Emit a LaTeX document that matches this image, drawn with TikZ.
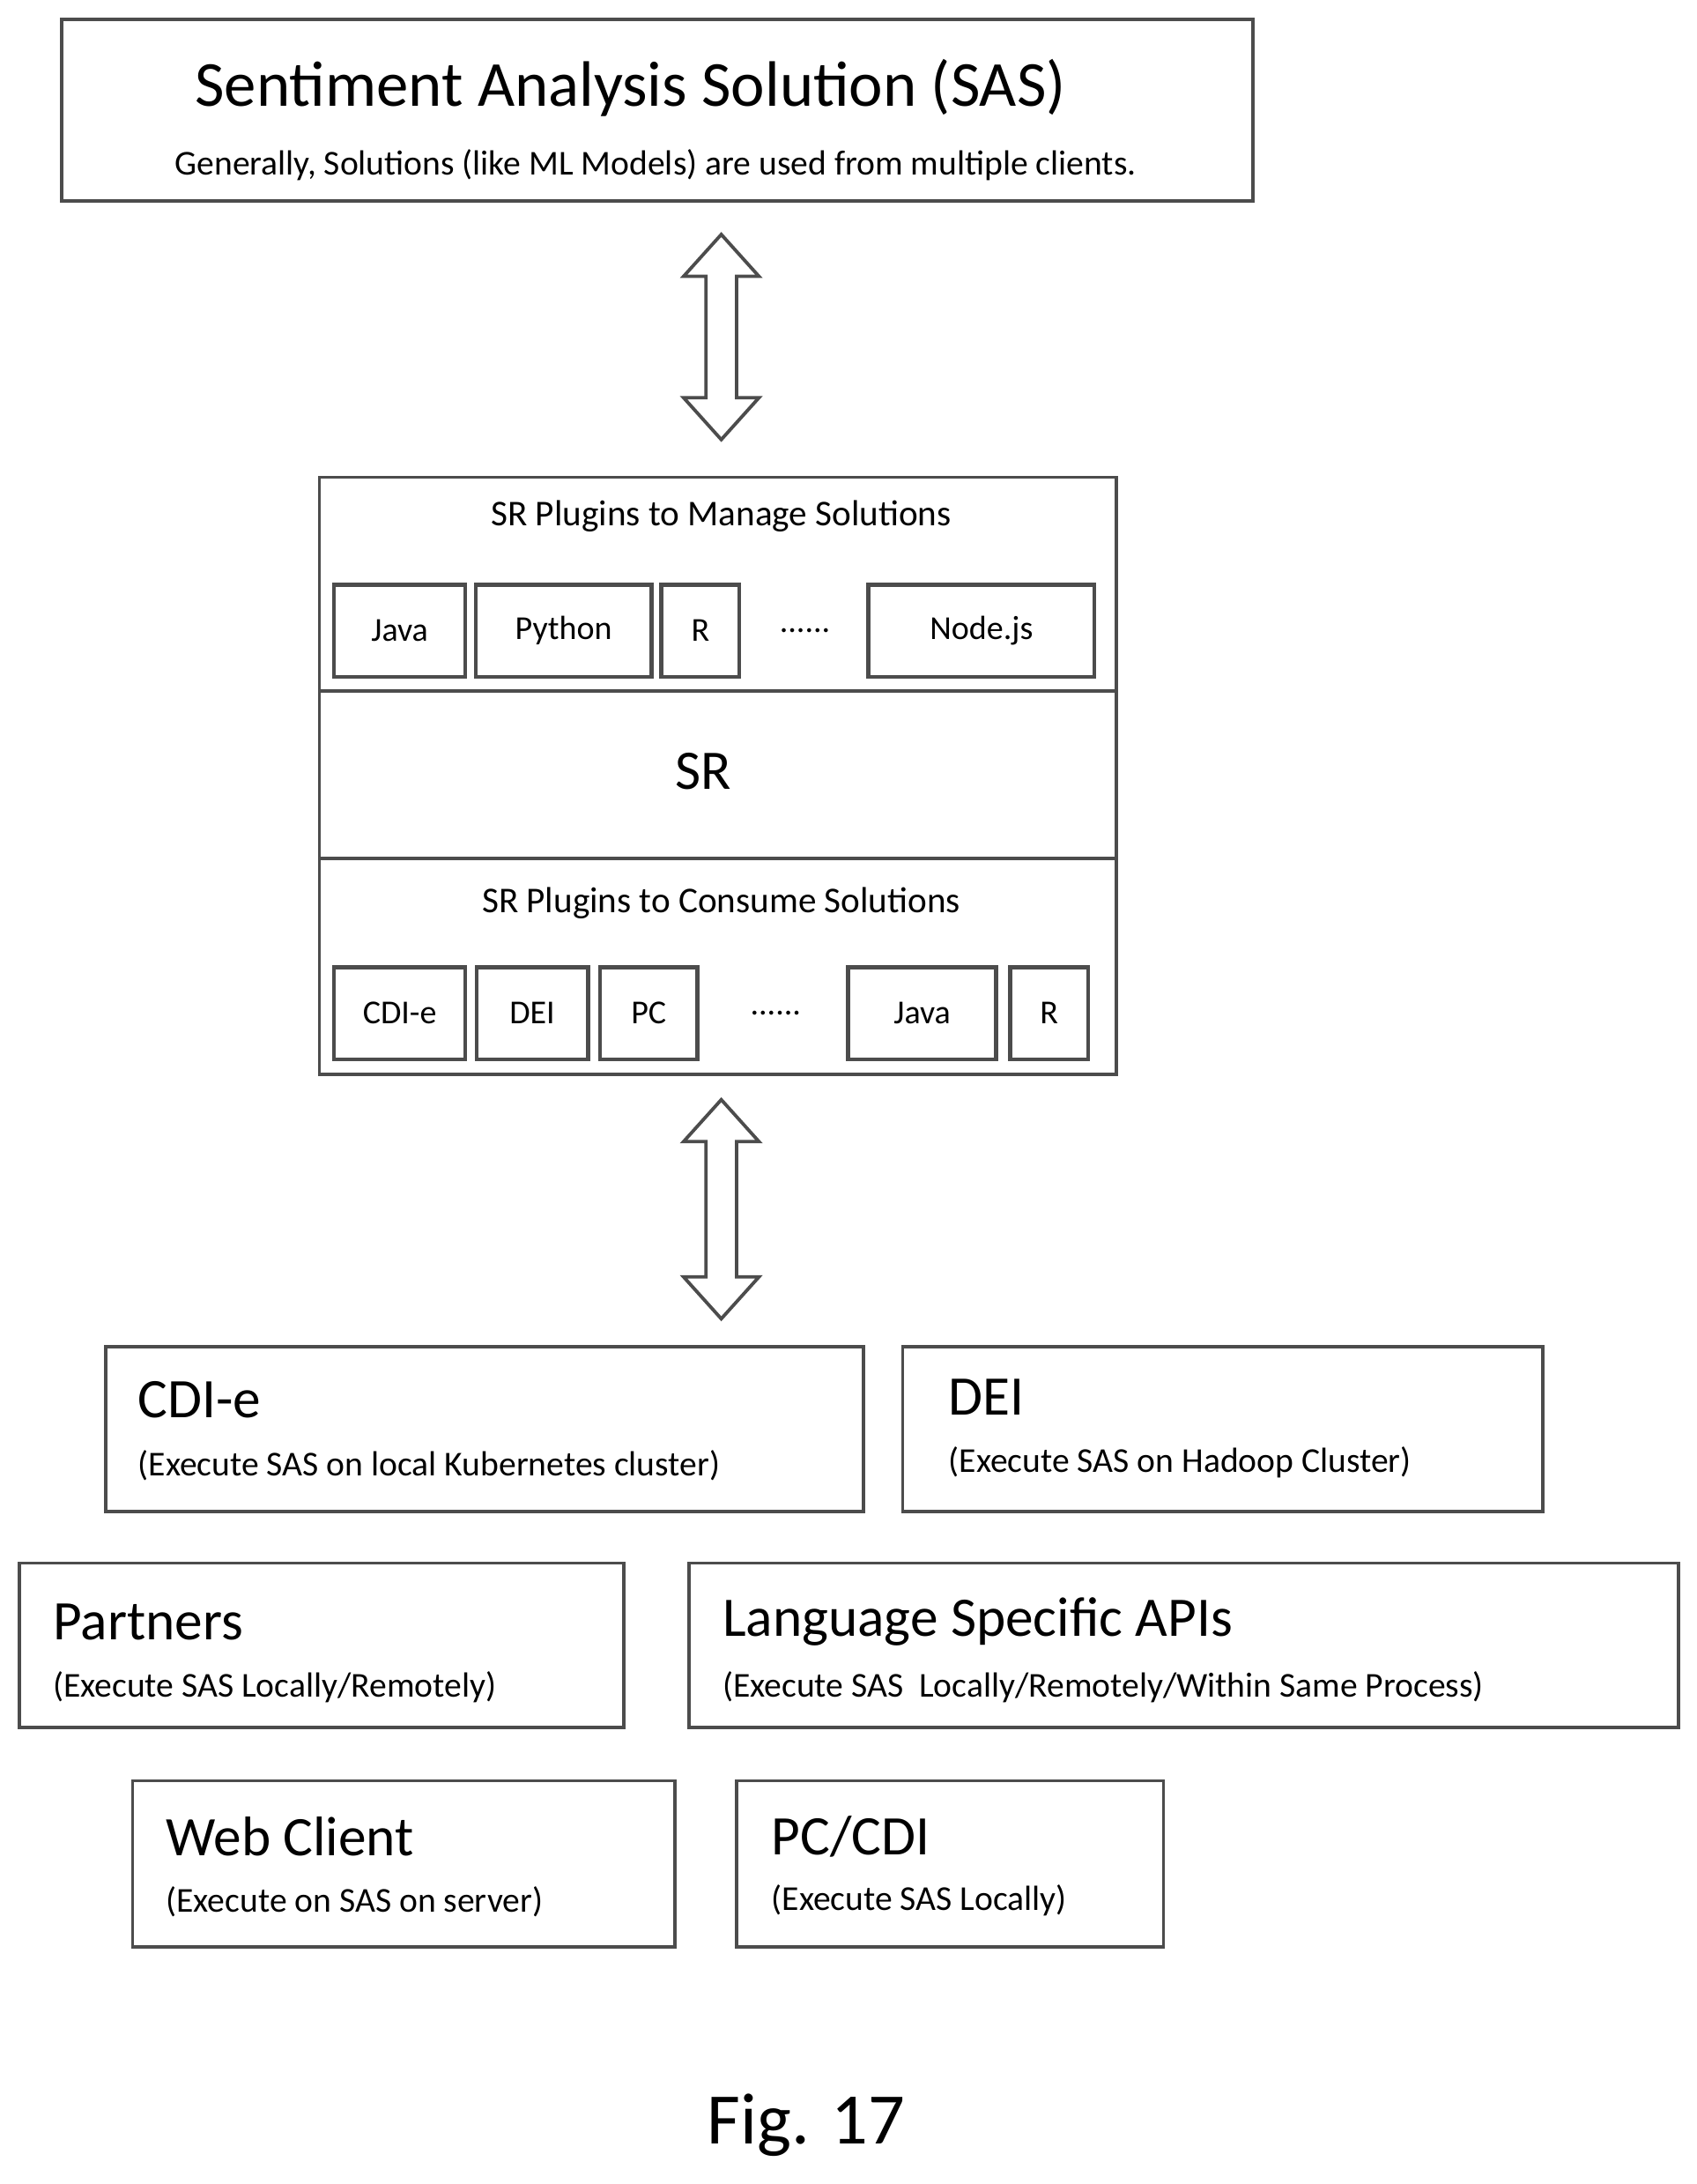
\documentclass[tikz,border=0pt]{standalone}
\usepackage{fontspec}
\setmainfont{Carlito}
\begin{document}
\begin{tikzpicture}[x=0.5pt,y=-0.5pt,
  box/.style={draw=black!70,line width=1.2pt},
  sm/.style={draw=black!70,line width=1.4pt,font=\fontsize{12}{14}\selectfont},
  big/.style={font=\fontsize{20}{24}\selectfont,anchor=west},
  sub/.style={font=\fontsize{12.5}{15}\selectfont,anchor=west},
  arr/.style={draw=black!70,line width=1.2pt,fill=white}]
\useasboundingbox (0,0) rectangle (1216,1565);
% SAS
\draw[box] (44,14) rectangle (898,144);
\node (t1) at (452,63) {\fontsize{23}{28}\selectfont Sentiment Analysis Solution (SAS)};
\node (t1s) at (470,118) {\fontsize{12.5}{15}\selectfont Generally, Solutions (like ML Models) are used from multiple clients.};
% arrows
\foreach \a/\b/\n in {168/315/a1,788/945/a2}{
 \coordinate (\n t) at (517,\a);
 \draw[arr] (\n t) -- (544,\a+30) -- (528,\a+30) -- (528,\b-30) -- (544,\b-30) -- (517,\b) -- (490,\b-30) -- (506,\b-30) -- (506,\a+30) -- (490,\a+30) -- cycle;
}
% SR
\draw[box] (229,342) rectangle (800,770);
\draw[box] (229,495) -- (800,495);
\draw[box] (229,615) -- (800,615);
\node[font=\fontsize{13}{15}\selectfont] (m) at (517,370) {SR Plugins to Manage Solutions};
\node[font=\fontsize{20}{24}\selectfont] (sr) at (504,553) {SR};
\node[font=\fontsize{13}{15}\selectfont] (c) at (517,647) {SR Plugins to Consume Solutions};
\foreach \x/\y/\t/\n in {240/333/Java/j1,341/467/Python/p1,474/530/R/r1,622/785/Node.js/n1,240/333/CDI-e/c2,341/422/DEI/d2,430/500/PC/p2,608/714/Java/j2,724/780/R/r2}{}
\node[sm,minimum width=47pt,minimum height=33pt] (j1) at (286.5,452) {Java};
\node[sm,minimum width=63pt,minimum height=33pt] (p1) at (404,452) {Python};
\node[sm,minimum width=28pt,minimum height=33pt] (r1) at (502,452) {R};
\node[font=\fontsize{12}{14}\selectfont] (d1) at (577,452) {......};
\node[sm,minimum width=81pt,minimum height=33pt] (n1) at (703.5,452) {Node.js};
\node[sm,minimum width=47pt,minimum height=33pt] (c2) at (286.5,726) {CDI-e};
\node[sm,minimum width=40pt,minimum height=33pt] (d2) at (381.5,726) {DEI};
\node[sm,minimum width=35pt,minimum height=33pt] (p2) at (465,726) {PC};
\node[font=\fontsize{12}{14}\selectfont] (d3) at (556,726) {......};
\node[sm,minimum width=53pt,minimum height=33pt] (j2) at (661,726) {Java};
\node[sm,minimum width=28pt,minimum height=33pt] (r2) at (752,726) {R};
% clients
\draw[box] (76,965) rectangle (619,1083);
\node[big] (cd) at (92,1003) {CDI-e};
\node[sub] (cds) at (92,1050) {(Execute SAS on local Kubernetes cluster)};
\draw[box] (647,965) rectangle (1106,1083);
\node[big] (de) at (673,1001) {DEI};
\node[sub] (des) at (673,1048) {(Execute SAS on Hadoop Cluster)};
\draw[box] (14,1120) rectangle (447,1238);
\node[big] (pa) at (31,1162) {Partners};
\node[sub] (pas) at (31,1209) {(Execute SAS Locally/Remotely)};
\draw[box] (494,1120) rectangle (1203,1238);
\node[big] (la) at (511,1162) {Language Specific APIs};
\node[sub] (las) at (511,1209) {(Execute SAS \ Locally/Remotely/Within Same Process)};
\draw[box] (95,1276) rectangle (484,1395);
\node[big] (we) at (112,1316) {Web Client};
\node[sub] (wes) at (112,1363) {(Execute on SAS on server)};
\draw[box] (528,1276) rectangle (834,1395);
\node[big] (pc) at (546,1316) {PC/CDI};
\node[sub] (pcs) at (546,1362) {(Execute SAS Locally)};
\node[font=\fontsize{26}{30}\selectfont] (fig) at (578,1523) {Fig. 17};
\end{tikzpicture}
\end{document}
